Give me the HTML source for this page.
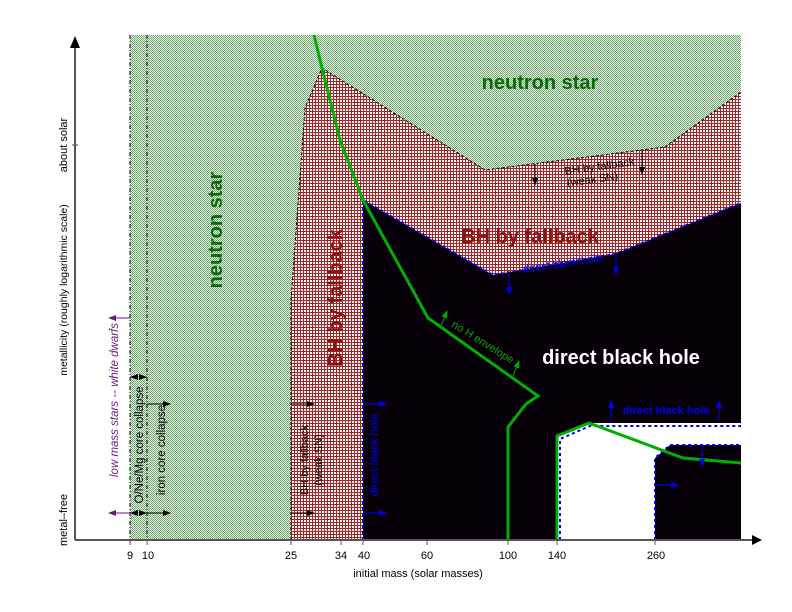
<!DOCTYPE html>
<html><head><meta charset="utf-8"><style>html,body{margin:0;padding:0;background:#fff}svg{display:block}</style></head><body>
<svg width="792" height="612" viewBox="0 0 792 612" xmlns="http://www.w3.org/2000/svg" font-family="Liberation Sans, sans-serif">
<defs>
<pattern id="g" width="2" height="2" patternUnits="userSpaceOnUse"><rect width="2" height="2" fill="#e2eee2"/><rect width="1" height="1" fill="#74aa74"/><rect x="1" y="1" width="1" height="1" fill="#74aa74"/></pattern>
<pattern id="r" width="3" height="3" patternUnits="userSpaceOnUse"><rect width="3" height="3" fill="#fbf4f4"/><rect width="1" height="3" fill="#9a2a2a"/><rect width="3" height="1" fill="#9a2a2a"/></pattern>
<marker id="ak" markerWidth="8" markerHeight="6" refX="7" refY="3" orient="auto" markerUnits="userSpaceOnUse"><path d="M0,0L8,3L0,6z" fill="#000"/></marker>
<marker id="ab" markerWidth="8" markerHeight="6" refX="7" refY="3" orient="auto" markerUnits="userSpaceOnUse"><path d="M0,0L8,3L0,6z" fill="#0000ee"/></marker>
<marker id="ap" markerWidth="8" markerHeight="6" refX="7" refY="3" orient="auto" markerUnits="userSpaceOnUse"><path d="M0,0L8,3L0,6z" fill="#6a1a7a"/></marker>
<marker id="agr" markerWidth="8" markerHeight="6" refX="7" refY="3" orient="auto" markerUnits="userSpaceOnUse"><path d="M0,0L8,3L0,6z" fill="#00aa00"/></marker>
</defs>
<rect x="130" y="35" width="611" height="505" fill="url(#g)"/>
<polygon points="291,540 291,300 305,108 322,68 485,170 665,147 741,92 741,540" fill="url(#r)"/>
<polyline points="291,540 291,300 305,108 322,68 485,170 665,147 741,92" fill="none" stroke="#000" stroke-width="1" stroke-dasharray="3,2"/>
<polygon points="363,540 363,200 493,275 615,254 741,203 741,423 590,423 557,436 557,540" fill="#080008"/>
<polygon points="655,540 655,458 670,445 741,445 741,540" fill="#080008"/>
<polygon points="557,540 557,436 590,423 741,423 741,445 670,445 655,458 655,540" fill="#fff"/>
<g fill="none" stroke="#0000ee" stroke-width="2" stroke-dasharray="3,3">
<polyline points="363,540 363,200 493,275 615,254 741,203"/>
<polyline points="560,540 560,439 590,426 741,426"/>
<polyline points="655,540 655,458 670,445 741,445"/>
</g>
<g stroke="#000" stroke-width="1" stroke-dasharray="4,2,1,2">
<line x1="130" y1="35" x2="130" y2="540"/><line x1="147" y1="35" x2="147" y2="540"/>
</g>
<g fill="none" stroke="#00b000" stroke-width="3">
<polyline points="314,35 322,68 340,140 363,200 428,318 538,396 526,404 508,427 508,540"/>
<polyline points="557,540 557,436 589,423 683,458 741,463"/>
</g>
<line x1="75" y1="540" x2="755" y2="540" stroke="#555" stroke-width="2"/>
<path d="M752,535 L762,540 L752,545z" fill="#000"/>
<line x1="75" y1="540" x2="75" y2="45" stroke="#555" stroke-width="2"/>
<path d="M70,48 L75,36 L80,48z" fill="#000"/>
<line x1="72" y1="145" x2="78" y2="145" stroke="#555"/>
<g stroke="#555" stroke-width="1">
<line x1="130" y1="540" x2="130" y2="545"/><line x1="147" y1="540" x2="147" y2="545"/><line x1="291" y1="540" x2="291" y2="545"/><line x1="341" y1="540" x2="341" y2="545"/><line x1="363" y1="540" x2="363" y2="545"/><line x1="427" y1="540" x2="427" y2="545"/><line x1="508" y1="540" x2="508" y2="545"/><line x1="557" y1="540" x2="557" y2="545"/><line x1="655" y1="540" x2="655" y2="545"/>
</g>
<g font-size="11" text-anchor="middle" fill="#000">
<text x="130" y="559">9</text><text x="148" y="559">10</text><text x="291" y="559">25</text><text x="341" y="559">34</text><text x="364" y="559">40</text><text x="427" y="559">60</text><text x="508" y="559">100</text><text x="557" y="559">140</text><text x="656" y="559">260</text>
<text x="418" y="577">initial mass (solar masses)</text>
<text transform="translate(67,145) rotate(-90)">about solar</text>
<text transform="translate(67,520) rotate(-90)">metal–free</text>
<text transform="translate(67,290) rotate(-90)" font-size="10.5">metallicity (roughly logarithmic scale)</text>
</g>
<g font-weight="bold" text-anchor="middle">
<text x="540" y="89" font-size="20" fill="#0a6a0a">neutron star</text>
<text transform="translate(222,230) rotate(-90)" font-size="20" fill="#0a6a0a">neutron star</text>
<text transform="translate(342,298) rotate(-90)" font-size="20" fill="#8b1010">BH by fallback</text>
<text x="530" y="243" font-size="20" fill="#8b1010">BH by fallback</text>
<text x="621" y="364" font-size="20" fill="#fff">direct black hole</text>
</g>
<g font-size="11" text-anchor="middle">
<text transform="translate(600,170) rotate(-8)">BH by fallback</text>
<text transform="translate(593,183) rotate(-8)">(weak SN)</text>
<text transform="translate(563,267) rotate(-8)" fill="#0000ee">direct black hole</text>
<text transform="translate(481,345) rotate(32)" fill="#00aa00">no H envelope</text>
<text x="666" y="414" fill="#0000ee" font-weight="bold">direct black hole</text>
<text transform="translate(118,400) rotate(-90)" fill="#6a1a7a" font-style="italic" font-size="11.5">low mass stars -- white dwarfs</text>
<text transform="translate(143,445) rotate(-90)" font-size="11.5">O/Ne/Mg core collapse</text>
<text transform="translate(165,450) rotate(-90)" font-size="11.5">iron core collapse</text>
<text transform="translate(308,460) rotate(-90)">BH by fallback</text>
<text transform="translate(322,460) rotate(-90)">(weak SN)</text>
<text transform="translate(378,455) rotate(-90)" fill="#0000ee" font-size="11.5">direct black hole</text>
</g>
<g stroke-width="1">
<line x1="130" y1="318" x2="109" y2="318" stroke="#6a1a7a" marker-end="url(#ap)"/>
<line x1="130" y1="513" x2="109" y2="513" stroke="#6a1a7a" marker-end="url(#ap)"/>
<line x1="138" y1="377" x2="131" y2="377" stroke="#000" marker-end="url(#ak)"/>
<line x1="139" y1="377" x2="146" y2="377" stroke="#000" marker-end="url(#ak)"/>
<line x1="138" y1="513" x2="131" y2="513" stroke="#000" marker-end="url(#ak)"/>
<line x1="139" y1="513" x2="146" y2="513" stroke="#000" marker-end="url(#ak)"/>
<line x1="147" y1="404" x2="170" y2="404" stroke="#000" marker-end="url(#ak)"/>
<line x1="147" y1="513" x2="170" y2="513" stroke="#000" marker-end="url(#ak)"/>
<line x1="291" y1="404" x2="314" y2="404" stroke="#000" marker-end="url(#ak)"/>
<line x1="291" y1="513" x2="314" y2="513" stroke="#000" marker-end="url(#ak)"/>
<line x1="363" y1="404" x2="386" y2="404" stroke="#0000ee" marker-end="url(#ab)"/>
<line x1="363" y1="513" x2="386" y2="513" stroke="#0000ee" marker-end="url(#ab)"/>
<line x1="655" y1="485" x2="678" y2="485" stroke="#0000ee" marker-end="url(#ab)"/>
<line x1="535" y1="164" x2="535" y2="185" stroke="#000" marker-end="url(#ak)"/>
<line x1="642" y1="151" x2="642" y2="174" stroke="#000" marker-end="url(#ak)"/>
<line x1="509" y1="272" x2="509" y2="294" stroke="#0000ee" marker-end="url(#ab)"/>
<line x1="616" y1="253" x2="616" y2="274" stroke="#0000ee" marker-end="url(#ab)"/>
<line x1="611" y1="422" x2="611" y2="401" stroke="#0000ee" marker-end="url(#ab)"/>
<line x1="719" y1="422" x2="719" y2="401" stroke="#0000ee" marker-end="url(#ab)"/>
<line x1="702" y1="445" x2="702" y2="466" stroke="#0000ee" marker-end="url(#ab)"/>
<line x1="441" y1="326" x2="447" y2="311" stroke="#00aa00" marker-end="url(#agr)"/>
<line x1="513" y1="376" x2="519" y2="361" stroke="#00aa00" marker-end="url(#agr)"/>
</g>
</svg>
</body></html>
